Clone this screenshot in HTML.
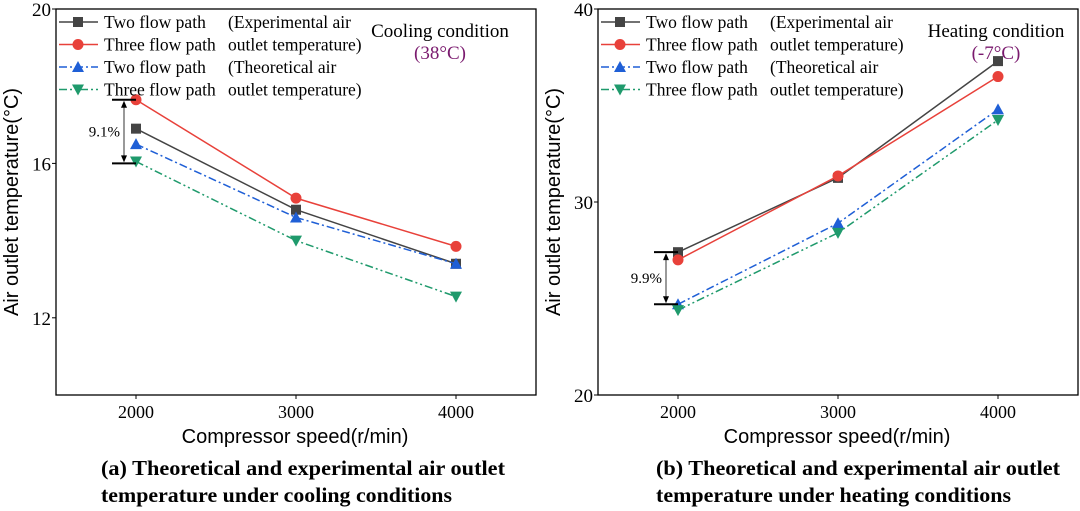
<!DOCTYPE html>
<html><head><meta charset="utf-8"><style>
html,body{margin:0;padding:0;background:#fff;}
svg{display:block;font-family:"Liberation Serif",serif;}
</style></head><body>
<svg id="c" width="1080" height="511" viewBox="0 0 1080 511"></svg>
<script>
const categories=[2000,3000,4000];
const coolTwoExp=[16.9,14.8,13.4];
const coolThreeExp=[17.65,15.1,13.85];
const coolTwoTheo=[16.5,14.6,13.4];
const coolThreeTheo=[16.05,14.0,12.55];
const heatTwoExp=[27.4,31.25,37.3];
const heatThreeExp=[27.0,31.35,36.5];
const heatTwoTheo=[24.7,28.9,34.8];
const heatThreeTheo=[24.4,28.4,34.25];
const coolTicks=[12,16,20];
const heatTicks=[20,30,40];
const svg=document.getElementById('c');
const NS='http://www.w3.org/2000/svg';
function mk(tag,attrs,parent,text){const e=document.createElementNS(NS,tag);for(const k in attrs)e.setAttribute(k,attrs[k]);if(text!==undefined)e.textContent=text;(parent||svg).appendChild(e);return e;}
function chart(cfg){
  const g=mk('g',{});
  
  
  const L=cfg.x0,R=cfg.x0+480,T=9,B=395;
  const xs=v=>L+(v-1500)/3000*480;
  const ys=v=>B-(v-cfg.ymin)/(cfg.ymax-cfg.ymin)*(B-T);
  const frame=mk('rect',{x:L,y:T,width:480,height:B-T,fill:'none',stroke:'#000','stroke-width':1.3},g);
  
  cfg.ticks.forEach(t=>{mk('line',{x1:L-4,x2:L,y1:ys(t),y2:ys(t),stroke:'#000'},g);
    const tl=mk('text',{x:L-5,y:ys(t)+7,'text-anchor':'end','font-size':19},g,t);
    });
  categories.forEach(c=>{mk('line',{x1:xs(c),x2:xs(c),y1:B,y2:B+4,stroke:'#000'},g);
    const tl=mk('text',{x:xs(c),y:B+23,'text-anchor':'middle','font-size':18},g,c);
    });
  const xt=mk('text',{x:L+239,y:B+48,'text-anchor':'middle','font-size':20,'font-family':'Liberation Sans, sans-serif'},g,'Compressor speed(r/min)');
  
  const yt=mk('text',{x:0,y:0,'text-anchor':'middle','font-size':20,'font-family':'Liberation Sans, sans-serif',transform:`translate(${L-38},${(T+B)/2}) rotate(-90)`},g,'Air outlet temperature(°C)');
  
  const series=[
    {d:cfg.s[0],c:'#444',dash:'',m:'sq',n:'two-flow-experimental'},
    {d:cfg.s[1],c:'#e8413a',dash:'',m:'ci',n:'three-flow-experimental'},
    {d:cfg.s[2],c:'#1f5fd6',dash:'8 3 2 3',m:'up',n:'two-flow-theoretical'},
    {d:cfg.s[3],c:'#1f9a6c',dash:'8 3 2 3 2 3',m:'dn',n:'three-flow-theoretical'}];
  function marker(type,x,y,c,p){let e;
    if(type==='sq')e=mk('rect',{x:x-5,y:y-5,width:10,height:10,fill:c},p);
    else if(type==='ci')e=mk('circle',{cx:x,cy:y,r:5.5,fill:c},p);
    else if(type==='up')e=mk('polygon',{points:`${x},${y-6} ${x-6},${y+5} ${x+6},${y+5}`,fill:c},p);
    else e=mk('polygon',{points:`${x},${y+6} ${x-6},${y-5} ${x+6},${y-5}`,fill:c},p);
    return e;}
  series.forEach(s=>{
    const pts=s.d.map((v,i)=>xs(categories[i])+','+ys(v)).join(' ');
    const pl=mk('polyline',{points:pts,fill:'none',stroke:s.c,'stroke-width':1.5,'stroke-dasharray':s.dash},g);
    
    s.d.forEach((v,i)=>{const m=marker(s.m,xs(categories[i]),ys(v),s.c,g);
      });
  });
  const lg=mk('g',{},g);
  const labels=[['Two flow path','(Experimental air'],['Three flow path','outlet temperature)'],['Two flow path','(Theoretical air'],['Three flow path','outlet temperature)']];
  series.forEach((s,i)=>{const y=22+i*22.5;
    mk('line',{x1:L+3,x2:L+42,y1:y,y2:y,stroke:s.c,'stroke-width':1.5,'stroke-dasharray':s.dash},lg);
    marker(s.m,L+22,y,s.c,lg);
    const t1=mk('text',{x:L+48,y:y+6,'font-size':17.5},lg,labels[i][0]);
    
    mk('text',{x:L+172,y:y+6,'font-size':17.5},lg,labels[i][1]);
  });
  const c1=mk('text',{x:cfg.condX,y:37,'text-anchor':'middle','font-size':19},g,cfg.cond);
  
  mk('text',{x:cfg.condX,y:59,'text-anchor':'middle','font-size':19,fill:'#7a1a6e'},g,cfg.condT);
  const a=cfg.ann,ax=xs(2000)-12,y1=ys(a[0]),y2=ys(a[1]);
  const an=mk('g',{},g);
  mk('line',{x1:ax-12,x2:ax+12,y1:y1,y2:y1,stroke:'#000','stroke-width':2},an);
  mk('line',{x1:ax-12,x2:ax+12,y1:y2,y2:y2,stroke:'#000','stroke-width':2},an);
  mk('line',{x1:ax,x2:ax,y1:y1+2,y2:y2-2,stroke:'#000','stroke-width':0.8},an);
  mk('polygon',{points:`${ax},${y1+1} ${ax-3},${y1+8} ${ax+3},${y1+8}`},an);
  mk('polygon',{points:`${ax},${y2-1} ${ax-3},${y2-8} ${ax+3},${y2-8}`},an);
  mk('text',{x:ax-4,y:(y1+y2)/2+5,'text-anchor':'end','font-size':15},an,cfg.pct);
  const cap=mk('text',{x:cfg.capX,y:475,'font-size':21,'font-weight':'bold',textLength:404,lengthAdjust:'spacingAndGlyphs'},g,cfg.cap1);
  
  mk('text',{x:cfg.capX,y:502,'font-size':21,'font-weight':'bold',textLength:cfg.cap2w,lengthAdjust:'spacingAndGlyphs'},g,cfg.cap2);
}
chart({name:'cooling-chart',x0:56,ymin:10,ymax:20,ticks:coolTicks,s:[coolTwoExp,coolThreeExp,coolTwoTheo,coolThreeTheo],
 cond:'Cooling condition',condT:'(38°C)',condX:440,ann:[17.65,16.0],pct:'9.1%',capX:101,cap2w:351,
 cap1:'(a)  Theoretical and experimental air outlet',cap2:'temperature under cooling conditions'});
chart({name:'heating-chart',x0:598,ymin:20,ymax:40,ticks:heatTicks,s:[heatTwoExp,heatThreeExp,heatTwoTheo,heatThreeTheo],
 cond:'Heating condition',condT:'(-7°C)',condX:996,ann:[27.4,24.7],pct:'9.9%',capX:656,cap2w:355,
 cap1:'(b)  Theoretical and experimental air outlet',cap2:'temperature under heating conditions'});
</script>
</body></html>
